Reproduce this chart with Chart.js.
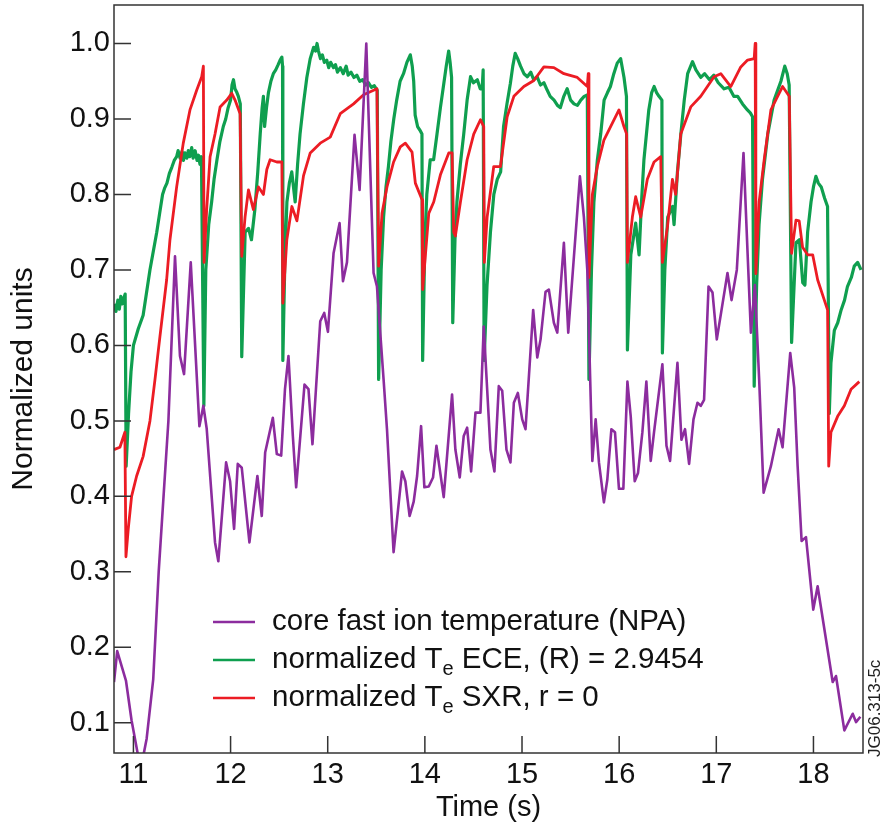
<!DOCTYPE html>
<html>
<head>
<meta charset="utf-8">
<script src="https://cdn.jsdelivr.net/npm/chart.js@4.4.1/dist/chart.umd.min.js"></script>
<style>
  html, body { margin: 0; padding: 0; background: #fff; }
  #wrap { width: 882px; height: 825px; }
</style>
</head>
<body>
<div id="wrap"><canvas id="chart" width="882" height="825"></canvas></div>
<script>
// Données : [temps (s), valeur normalisée]
const xTicks = [11, 12, 13, 14, 15, 16, 17, 18];
const yTicks = [0.1, 0.2, 0.3, 0.4, 0.5, 0.6, 0.7, 0.8, 0.9, 1.0];

// core fast ion temperature (NPA)
const npaPoints = [
  [10.80,0.154],[10.833,0.195],[10.923,0.156],[10.981,0.103],[11.05,0.055],[11.10,0.055],[11.136,0.079],[11.204,0.158],[11.26,0.30],[11.36,0.50],
  [11.428,0.718],[11.479,0.586],[11.521,0.562],[11.59,0.71],[11.679,0.493],[11.72,0.52],[11.754,0.49],[11.84,0.339],[11.874,0.314],[11.954,0.445],
  [11.995,0.42],[12.036,0.357],[12.074,0.443],[12.115,0.438],[12.194,0.339],[12.276,0.427],[12.321,0.374],[12.356,0.458],[12.435,0.504],[12.476,0.456],
  [12.521,0.454],[12.56,0.542],[12.596,0.586],[12.641,0.48],[12.675,0.412],[12.761,0.548],[12.802,0.542],[12.843,0.469],[12.923,0.632],[12.964,0.643],
  [13.002,0.618],[13.06,0.722],[13.122,0.762],[13.157,0.685],[13.198,0.71],[13.276,0.879],[13.328,0.806],[13.397,1.0],[13.472,0.696],[13.507,0.678],
  [13.575,0.555],[13.61,0.489],[13.678,0.326],[13.765,0.433],[13.799,0.42],[13.843,0.374],[13.885,0.393],[13.92,0.427],[13.961,0.493],[13.995,0.412],
  [14.04,0.413],[14.084,0.425],[14.119,0.467],[14.194,0.399],[14.28,0.535],[14.314,0.462],[14.359,0.425],[14.40,0.48],[14.435,0.491],[14.476,0.433],
  [14.521,0.511],[14.572,0.511],[14.606,0.625],[14.675,0.462],[14.716,0.433],[14.761,0.546],[14.796,0.54],[14.84,0.462],[14.881,0.445],[14.916,0.524],
  [14.957,0.537],[15.002,0.502],[15.036,0.489],[15.115,0.647],[15.157,0.584],[15.191,0.608],[15.242,0.671],[15.276,0.674],[15.328,0.63],[15.363,0.617],
  [15.431,0.736],[15.476,0.617],[15.596,0.824],[15.637,0.77],[15.672,0.70],[15.724,0.447],[15.758,0.502],[15.792,0.445],[15.843,0.392],[15.878,0.422],
  [15.92,0.489],[15.957,0.485],[15.998,0.41],[16.043,0.41],[16.085,0.552],[16.119,0.506],[16.16,0.42],[16.194,0.431],[16.239,0.485],[16.28,0.552],
  [16.325,0.447],[16.359,0.485],[16.445,0.575],[16.487,0.467],[16.524,0.447],[16.60,0.577],[16.641,0.475],[16.678,0.489],[16.72,0.443],[16.765,0.502],
  [16.806,0.524],[16.84,0.52],[16.874,0.528],[16.92,0.678],[16.961,0.67],[17.005,0.608],[17.115,0.696],[17.157,0.66],[17.211,0.70],[17.28,0.855],
  [17.322,0.722],[17.356,0.617],[17.397,0.68],[17.441,0.555],[17.487,0.405],[17.562,0.44],[17.641,0.489],[17.682,0.465],[17.761,0.59],[17.802,0.544],
  [17.837,0.44],[17.878,0.341],[17.923,0.346],[17.998,0.25],[18.043,0.281],[18.198,0.154],[18.232,0.162],[18.318,0.09],[18.404,0.112],[18.438,0.101],
  [18.483,0.108]
];

// normalized Te ECE, (R) = 2.9454
const ecePoints = [
  [10.80,0.655],[10.82,0.645],[10.84,0.66],[10.855,0.648],[10.87,0.665],[10.885,0.655],[10.90,0.662],[10.915,0.668],[10.925,0.44],[10.95,0.51],
  [10.975,0.565],[11.00,0.60],[11.05,0.622],[11.10,0.64],[11.17,0.70],[11.24,0.75],[11.27,0.775],[11.30,0.80],[11.32,0.808],[11.345,0.815],
  [11.37,0.828],[11.395,0.836],[11.42,0.845],[11.445,0.85],[11.46,0.858],[11.48,0.848],[11.50,0.857],[11.515,0.845],[11.53,0.855],[11.55,0.848],
  [11.565,0.858],[11.58,0.85],[11.60,0.862],[11.615,0.848],[11.635,0.858],[11.655,0.845],[11.67,0.852],[11.685,0.84],[11.70,0.85],[11.725,0.52],
  [11.745,0.70],[11.775,0.76],[11.805,0.79],[11.83,0.82],[11.86,0.846],[11.89,0.87],[11.925,0.89],[11.95,0.90],[11.975,0.915],[12.00,0.925],
  [12.015,0.945],[12.03,0.952],[12.045,0.94],[12.065,0.935],[12.08,0.93],[12.10,0.92],[12.115,0.585],[12.15,0.75],[12.185,0.755],[12.215,0.74],
  [12.25,0.78],[12.28,0.83],[12.305,0.88],[12.325,0.915],[12.338,0.93],[12.35,0.89],[12.37,0.915],[12.39,0.935],[12.415,0.95],[12.44,0.96],
  [12.465,0.965],[12.49,0.972],[12.51,0.978],[12.528,0.982],[12.535,0.97],[12.538,0.58],[12.56,0.72],[12.58,0.79],[12.605,0.815],[12.63,0.83],
  [12.665,0.79],[12.69,0.84],[12.715,0.88],[12.75,0.92],[12.785,0.955],[12.82,0.98],[12.855,0.995],[12.875,0.99],[12.89,1.0],[12.905,0.99],
  [12.925,0.98],[12.945,0.985],[12.965,0.975],[12.99,0.978],[13.01,0.968],[13.03,0.975],[13.06,0.968],[13.08,0.972],[13.10,0.962],[13.13,0.968],
  [13.16,0.96],[13.19,0.97],[13.21,0.958],[13.24,0.962],[13.27,0.955],[13.30,0.958],[13.33,0.95],[13.36,0.952],[13.39,0.945],[13.42,0.948],
  [13.45,0.942],[13.48,0.944],[13.51,0.938],[13.524,0.555],[13.55,0.70],[13.575,0.77],[13.60,0.81],[13.625,0.837],[13.65,0.87],[13.68,0.90],
  [13.71,0.925],[13.745,0.95],[13.78,0.96],[13.815,0.975],[13.85,0.985],[13.87,0.97],[13.885,0.95],[13.90,0.905],[13.925,0.89],[13.95,0.885],
  [13.97,0.88],[13.977,0.58],[14.00,0.74],[14.02,0.80],[14.055,0.846],[14.09,0.846],[14.125,0.88],[14.16,0.915],[14.195,0.947],[14.22,0.97],
  [14.245,0.99],[14.26,0.975],[14.275,0.955],[14.287,0.63],[14.31,0.74],[14.33,0.79],[14.365,0.84],[14.40,0.88],[14.435,0.925],[14.47,0.956],
  [14.50,0.948],[14.54,0.952],[14.57,0.94],[14.59,0.94],[14.60,0.965],[14.61,0.58],[14.64,0.68],[14.675,0.75],[14.71,0.80],[14.745,0.82],
  [14.78,0.83],[14.81,0.89],[14.845,0.92],[14.88,0.947],[14.905,0.97],[14.93,0.987],[14.955,0.98],[14.985,0.97],[15.02,0.96],[15.055,0.956],
  [15.09,0.962],[15.12,0.952],[15.155,0.956],[15.19,0.945],[15.225,0.948],[15.26,0.938],[15.29,0.93],[15.33,0.925],[15.365,0.918],[15.395,0.915],
  [15.43,0.93],[15.465,0.94],[15.50,0.925],[15.535,0.92],[15.57,0.918],[15.605,0.925],[15.64,0.93],[15.672,0.932],[15.689,0.555],[15.715,0.70],
  [15.74,0.79],[15.775,0.845],[15.81,0.88],[15.845,0.925],[15.88,0.935],[15.91,0.943],[15.945,0.96],[15.98,0.974],[16.015,0.98],[16.05,0.955],
  [16.075,0.93],[16.085,0.594],[16.12,0.72],[16.17,0.762],[16.205,0.72],[16.23,0.79],[16.255,0.846],[16.305,0.912],[16.335,0.935],[16.36,0.943],
  [16.385,0.935],[16.41,0.93],[16.44,0.925],[16.445,0.59],[16.47,0.70],[16.50,0.77],[16.55,0.784],[16.565,0.76],[16.60,0.83],[16.635,0.88],
  [16.67,0.925],[16.705,0.96],[16.755,0.976],[16.79,0.965],[16.84,0.955],[16.88,0.96],[16.93,0.952],[16.975,0.958],[17.02,0.948],[17.08,0.94],
  [17.13,0.942],[17.18,0.93],[17.22,0.93],[17.27,0.92],[17.32,0.912],[17.35,0.908],[17.373,0.903],[17.39,0.546],[17.415,0.68],[17.44,0.76],
  [17.475,0.82],[17.53,0.88],[17.595,0.925],[17.665,0.95],[17.705,0.97],[17.73,0.96],[17.75,0.945],[17.775,0.604],[17.82,0.736],[17.855,0.74],
  [17.89,0.683],[17.912,0.68],[17.94,0.75],[17.975,0.79],[18.00,0.81],[18.025,0.824],[18.05,0.815],[18.08,0.81],[18.115,0.795],[18.145,0.784],
  [18.163,0.51],[18.18,0.577],[18.215,0.62],[18.25,0.63],[18.285,0.647],[18.32,0.66],[18.35,0.678],[18.39,0.69],[18.42,0.705],[18.455,0.71],
  [18.49,0.70]
];

// normalized Te SXR, r = 0
const sxrPoints = [
  [10.80,0.462],[10.861,0.465],[10.912,0.485],[10.923,0.32],[10.946,0.356],[10.981,0.40],[11.033,0.427],[11.10,0.453],[11.17,0.50],[11.222,0.555],
  [11.273,0.612],[11.342,0.687],[11.376,0.74],[11.445,0.81],[11.513,0.868],[11.582,0.912],[11.651,0.938],[11.703,0.956],[11.72,0.97],[11.727,0.71],
  [11.754,0.78],[11.789,0.85],[11.84,0.88],[11.892,0.916],[11.961,0.925],[12.012,0.934],[12.046,0.925],[12.098,0.907],[12.115,0.718],[12.149,0.77],
  [12.184,0.806],[12.235,0.78],[12.287,0.81],[12.338,0.80],[12.373,0.833],[12.407,0.846],[12.476,0.843],[12.528,0.843],[12.538,0.656],[12.579,0.74],
  [12.631,0.784],[12.683,0.765],[12.751,0.825],[12.82,0.855],[12.923,0.868],[13.026,0.876],[13.129,0.907],[13.266,0.92],[13.369,0.932],[13.507,0.94],
  [13.524,0.705],[13.559,0.775],[13.61,0.81],[13.678,0.843],[13.747,0.863],[13.799,0.868],[13.868,0.856],[13.902,0.815],[13.971,0.793],[13.977,0.674],
  [14.04,0.775],[14.091,0.79],[14.16,0.826],[14.246,0.855],[14.28,0.855],[14.297,0.75],[14.314,0.745],[14.366,0.79],[14.435,0.846],[14.503,0.88],
  [14.572,0.899],[14.606,0.89],[14.612,0.71],[14.641,0.77],[14.709,0.837],[14.778,0.837],[14.847,0.903],[14.916,0.93],[15.019,0.943],[15.122,0.951],
  [15.225,0.969],[15.328,0.968],[15.431,0.96],[15.569,0.955],[15.672,0.943],[15.682,0.96],[15.689,0.69],[15.724,0.80],[15.775,0.837],[15.843,0.872],
  [15.912,0.89],[15.998,0.912],[16.049,0.89],[16.077,0.88],[16.085,0.71],[16.136,0.77],[16.17,0.797],[16.222,0.77],[16.29,0.82],[16.359,0.843],
  [16.428,0.85],[16.445,0.71],[16.497,0.757],[16.548,0.82],[16.582,0.80],[16.634,0.88],[16.737,0.916],[16.84,0.93],[16.977,0.956],[17.046,0.96],
  [17.149,0.943],[17.252,0.969],[17.322,0.978],[17.39,0.98],[17.40,1.0],[17.407,0.695],[17.441,0.79],[17.493,0.846],[17.562,0.912],[17.631,0.93],
  [17.682,0.943],[17.751,0.93],[17.775,0.722],[17.82,0.766],[17.853,0.765],[17.888,0.73],[17.94,0.72],[17.992,0.72],[18.043,0.687],[18.112,0.66],
  [18.146,0.647],[18.157,0.44],[18.18,0.485],[18.249,0.506],[18.318,0.52],[18.387,0.542],[18.472,0.552]
];

const npaColor = '#8C2C9E';
const eceColor = '#0F9F4F';
const sxrColor = '#EC1C24';
const fontFamily = '"Liberation Sans", Arial, Helvetica, sans-serif';

const legendItems = [
  { color: npaColor, parts: [['core fast ion temperature (NPA)', false]] },
  { color: eceColor, parts: [['normalized T', false], ['e', true], [' ECE, (R) = 2.9454', false]] },
  { color: sxrColor, parts: [['normalized T', false], ['e', true], [' SXR, r = 0', false]] }
];

function toXY(points) {
    return points.map(p => ({ x: p[0], y: p[1] }));
}

// Cadre, graduations intérieures, légende et référence
const decorPlugin = {
    id: 'decor',
    afterDraw(chart) {
        const ctx = chart.ctx;
        const area = chart.chartArea;
        const xs = chart.scales.x;
        const ys = chart.scales.y;
        ctx.save();
        ctx.strokeStyle = '#333';
        ctx.lineWidth = 1.5;
        ctx.strokeRect(area.left, area.top, area.right - area.left, area.bottom - area.top);

        ctx.beginPath();
        xTicks.forEach(v => {
            const px = xs.getPixelForValue(v);
            ctx.moveTo(px, area.bottom);
            ctx.lineTo(px, area.bottom - 17);
        });
        yTicks.forEach(v => {
            const py = ys.getPixelForValue(v);
            ctx.moveTo(area.left, py);
            ctx.lineTo(area.left + 17, py);
        });
        ctx.stroke();

        // Légende
        const rowY = [622, 660, 698];
        legendItems.forEach((item, i) => {
            const y = rowY[i];
            ctx.strokeStyle = item.color;
            ctx.lineWidth = 2.5;
            ctx.beginPath();
            ctx.moveTo(213, y);
            ctx.lineTo(255, y);
            ctx.stroke();
            let x = 272;
            ctx.fillStyle = '#111';
            ctx.textBaseline = 'middle';
            ctx.textAlign = 'left';
            item.parts.forEach(([txt, sub]) => {
                ctx.font = (sub ? '20px ' : '29.5px ') + fontFamily;
                ctx.fillText(txt, x, sub ? y + 9 : y);
                x += ctx.measureText(txt).width;
            });
        });

        // Référence de la figure
        ctx.translate(875, area.bottom + 4);
        ctx.rotate(-Math.PI / 2);
        ctx.font = '17px ' + fontFamily;
        ctx.fillStyle = '#222';
        ctx.textAlign = 'left';
        ctx.textBaseline = 'middle';
        ctx.fillText('JG06.313-5c', 0, 0);
        ctx.restore();
    }
};

const ctx = document.getElementById('chart').getContext('2d');
window.npaChart = new Chart(ctx, {
    type: 'line',
    data: {
        datasets: [{
            label: 'core fast ion temperature (NPA)',
            data: toXY(npaPoints),
            borderColor: npaColor,
            borderWidth: 2.6
        }, {
            label: 'normalized Te SXR, r = 0',
            data: toXY(sxrPoints),
            borderColor: sxrColor,
            borderWidth: 2.8
        }, {
            label: 'normalized Te ECE, (R) = 2.9454',
            data: toXY(ecePoints),
            borderColor: eceColor,
            borderWidth: 3.2
        }]
    },
    options: {
        responsive: false,
        animation: false,
        devicePixelRatio: 1,
        layout: { padding: { top: 5, right: 19, left: 0, bottom: 0 } },
        elements: {
            point: { radius: 0 },
            line: { tension: 0, fill: false, borderJoinStyle: 'round' }
        },
        plugins: {
            legend: { display: false },
            tooltip: { enabled: false }
        },
        scales: {
            x: {
                type: 'linear',
                min: 10.8,
                max: 18.51,
                grid: { display: false, drawTicks: false },
                border: { display: false },
                afterBuildTicks: (scale) => { scale.ticks = xTicks.map(v => ({ value: v })); },
                afterFit: (scale) => {
                    scale.height = 72;
                    scale.paddingLeft = 0;
                    scale.paddingRight = 0;
                },
                ticks: {
                    padding: 5,
                    color: '#111',
                    font: { family: fontFamily, size: 29 },
                    callback: (v) => String(v)
                },
                title: {
                    display: true,
                    text: 'Time (s)',
                    color: '#111',
                    font: { family: fontFamily, size: 29 },
                    padding: { top: 0, bottom: 0 }
                }
            },
            y: {
                type: 'linear',
                min: 0.06,
                max: 1.051,
                grid: { display: false, drawTicks: false },
                border: { display: false },
                afterBuildTicks: (scale) => { scale.ticks = yTicks.map(v => ({ value: v })); },
                afterFit: (scale) => {
                    scale.width = 114;
                    scale.paddingTop = 0;
                    scale.paddingBottom = 0;
                },
                ticks: {
                    padding: 4,
                    color: '#111',
                    font: { family: fontFamily, size: 29 },
                    callback: (v) => v.toFixed(1)
                },
                title: {
                    display: true,
                    text: 'Normalized units',
                    color: '#111',
                    font: { family: fontFamily, size: 30 },
                    padding: { top: 6, bottom: 0 }
                }
            }
        }
    },
    plugins: [decorPlugin]
});
</script>
</body>
</html>
